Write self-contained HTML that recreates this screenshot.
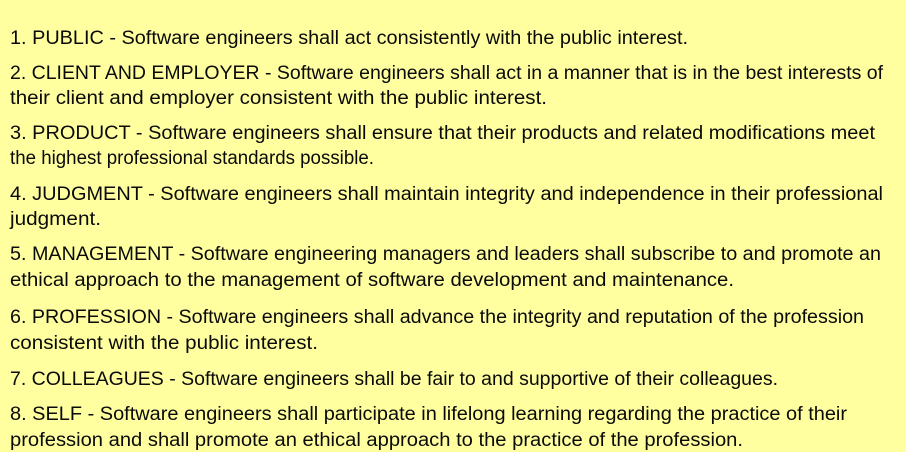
<!DOCTYPE html>
<html><head><meta charset="utf-8"><style>
html,body{margin:0;padding:0;width:906px;height:452px;overflow:hidden;background:#ffffa0;}
svg{display:block}
text{font-family:"Liberation Sans",sans-serif;font-size:19px;fill:#0a0a0a;}
</style></head><body>
<svg width="906" height="452">
<rect width="906" height="452" fill="#ffffa0"/>
<g>
<text x="10" y="44" textLength="678" lengthAdjust="spacingAndGlyphs">1. PUBLIC - Software engineers shall act consistently with the public interest.</text>
</g>
<g>
<text x="10" y="79" textLength="873" lengthAdjust="spacingAndGlyphs">2. CLIENT AND EMPLOYER - Software engineers shall act in a manner that is in the best interests of</text>
<text x="10" y="104" textLength="537" lengthAdjust="spacingAndGlyphs">their client and employer consistent with the public interest.</text>
</g>
<g>
<text x="10" y="139" textLength="865" lengthAdjust="spacingAndGlyphs">3. PRODUCT - Software engineers shall ensure that their products and related modifications meet</text>
<text x="10" y="164" textLength="364" lengthAdjust="spacingAndGlyphs">the highest professional standards possible.</text>
</g>
<g>
<text x="10" y="200" textLength="873" lengthAdjust="spacingAndGlyphs">4. JUDGMENT - Software engineers shall maintain integrity and independence in their professional</text>
<text x="10" y="225" textLength="91" lengthAdjust="spacingAndGlyphs">judgment.</text>
</g>
<g>
<text x="10" y="260" textLength="871" lengthAdjust="spacingAndGlyphs">5. MANAGEMENT - Software engineering managers and leaders shall subscribe to and promote an</text>
<text x="10" y="286" textLength="724" lengthAdjust="spacingAndGlyphs">ethical approach to the management of software development and maintenance.</text>
</g>
<g>
<text x="10" y="323" textLength="854" lengthAdjust="spacingAndGlyphs">6. PROFESSION - Software engineers shall advance the integrity and reputation of the profession</text>
<text x="10" y="349" textLength="308" lengthAdjust="spacingAndGlyphs">consistent with the public interest.</text>
</g>
<g>
<text x="10" y="385" textLength="768" lengthAdjust="spacingAndGlyphs">7. COLLEAGUES - Software engineers shall be fair to and supportive of their colleagues.</text>
</g>
<g>
<text x="10" y="420" textLength="837" lengthAdjust="spacingAndGlyphs">8. SELF - Software engineers shall participate in lifelong learning regarding the practice of their</text>
<text x="10" y="446" textLength="733" lengthAdjust="spacingAndGlyphs">profession and shall promote an ethical approach to the practice of the profession.</text>
</g>
</svg>
</body></html>
